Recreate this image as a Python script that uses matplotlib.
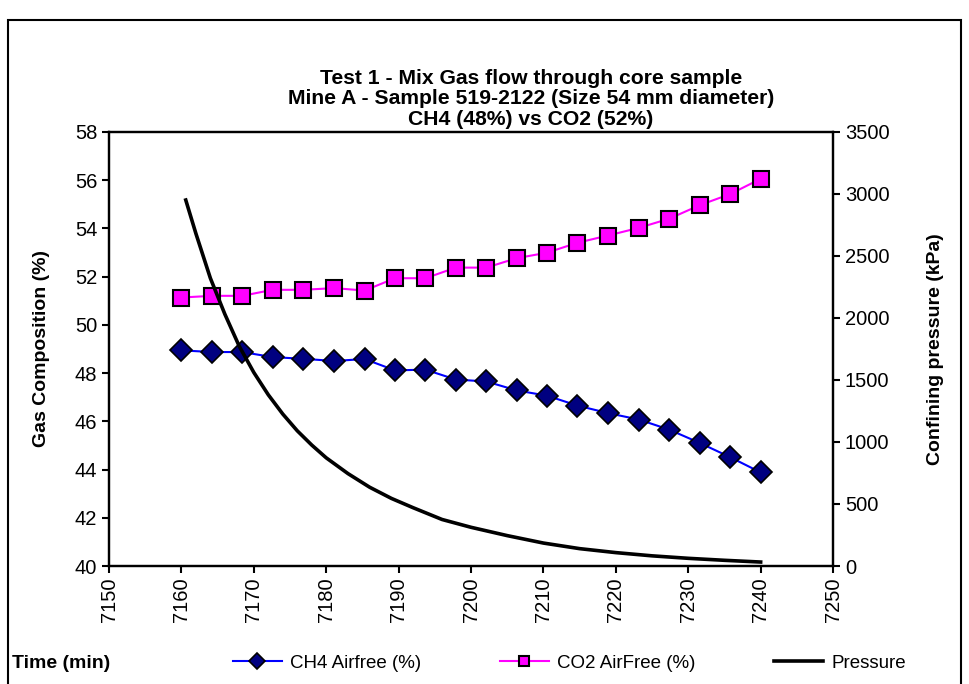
import matplotlib
matplotlib.use('Agg')
import matplotlib.pyplot as plt
from matplotlib.patches import Rectangle

plt.rcParams['font.family'] = ['Liberation Sans', 'DejaVu Sans']

# Gas composition samples
time_min = [7160.0, 7164.2, 7168.4, 7172.6, 7176.8, 7181.1, 7185.3, 7189.5, 7193.7, 7197.9,
            7202.1, 7206.3, 7210.5, 7214.7, 7218.9, 7223.2, 7227.4, 7231.6, 7235.8, 7240.0]
ch4 = [48.94, 48.87, 48.87, 48.66, 48.59, 48.50, 48.58, 48.11, 48.14, 47.73,
       47.65, 47.28, 47.06, 46.65, 46.34, 46.07, 45.65, 45.10, 44.51, 43.88]
co2 = [51.13, 51.20, 51.20, 51.45, 51.45, 51.52, 51.42, 51.93, 51.93, 52.37,
       52.37, 52.76, 52.99, 53.40, 53.70, 54.02, 54.40, 54.96, 55.42, 56.05]

# Confining pressure log
p_time = [7160.6, 7162.0, 7164.0, 7166.0, 7168.0, 7170.0, 7172.0, 7174.0, 7176.0, 7178.0,
          7180.0, 7183.0, 7186.0, 7189.0, 7192.0, 7196.0, 7200.0, 7205.0, 7210.0, 7215.0,
          7220.0, 7225.0, 7230.0, 7235.0, 7240.0]
pressure = [2950, 2680, 2320, 2030, 1770, 1560, 1380, 1225, 1090, 975,
            872, 745, 635, 545, 470, 375, 312, 245, 185, 140,
            108, 82, 62, 46, 32]

fig = plt.figure(figsize=(9.69, 6.84), dpi=100)
ax = fig.add_axes([0.1125, 0.1725, 0.7472, 0.6348])
ax2 = ax.twinx()

l1, = ax.plot(time_min, ch4, color='#0000ff', lw=1.5, marker='D', ms=11.5,
              mfc='#000080', mec='black', mew=1.2, label='CH4 Airfree (%)', zorder=3)
l2, = ax.plot(time_min, co2, color='#ff00ff', lw=1.5, marker='s', ms=11,
              mfc='#ff00ff', mec='black', mew=1.5, label='CO2 AirFree (%)', zorder=3)
l3, = ax2.plot(p_time, pressure, color='black', lw=2.6, label='Pressure')

ax.set_xlim(7150, 7250)
ax.set_ylim(40, 58)
ax.set_xticks(range(7150, 7251, 10))
ax.set_yticks(range(40, 59, 2))
ax2.set_ylim(0, 3500)
ax2.set_yticks(range(0, 3501, 500))

for a in (ax, ax2):
    for s in a.spines.values():
        s.set_linewidth(1.6)
    a.tick_params(width=1.5, length=5, labelsize=14.5, direction='out')
ax.tick_params(axis='x', labelrotation=90)

ax.set_ylabel('Gas Composition (%)', fontsize=14, fontweight='bold')
ax.yaxis.set_label_coords(-0.0815, 0.5)
ax2.set_ylabel('Confining pressure (kPa)', fontsize=14, fontweight='bold', rotation=90)
ax2.yaxis.set_label_coords(1.1297, 0.5)

fig.text(0.548, 1 - 99 / 684,
         'Test 1 - Mix Gas flow through core sample\n'
         'Mine A - Sample 519-2122 (Size 54 mm diameter)\n'
         'CH4 (48%) vs CO2 (52%)',
         ha='center', va='center', fontsize=15.2, fontweight='bold', linespacing=1.1)

fig.text(12 / 969, 1 - 663 / 684, 'Time (min)', ha='left', va='center',
         fontsize=14, fontweight='bold')

fig.legend(handles=[l1, l2, l3], loc='center left', bbox_to_anchor=(233 / 969, 1 - 663 / 684),
           ncol=3, frameon=False, fontsize=13.5, borderpad=0, borderaxespad=0,
           handlelength=2.6, handletextpad=0.45, columnspacing=4.2, markerscale=0.7)

# outer chart frame
fig.patches.append(Rectangle((8 / 969, -0.1), 953 / 969, 1.1 - 20 / 684,
                             transform=fig.transFigure, fill=False, lw=1.5,
                             edgecolor='black'))

fig.savefig('out.png', dpi=100)
